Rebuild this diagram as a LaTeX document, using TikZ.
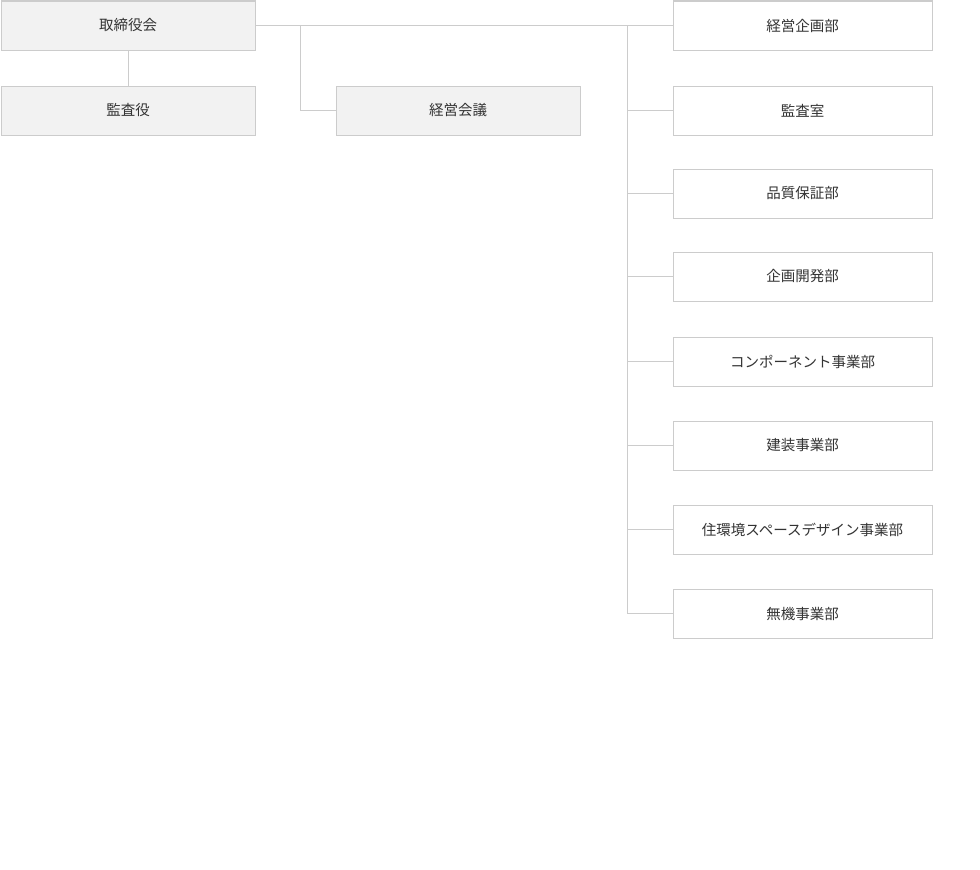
\documentclass[tikz,border=0pt]{standalone}
\usepackage{fontspec}
\setmainfont{Noto Sans CJK JP}
\definecolor{boxline}{HTML}{CCCCCC}
\definecolor{boxfill}{HTML}{F2F2F2}
\definecolor{txt}{HTML}{333333}
\begin{document}
\begin{tikzpicture}[x=1pt,y=-1pt,
  gbox/.style={draw=boxline,fill=boxfill,line width=1pt,minimum width=254pt,minimum height=49pt,inner sep=0pt,anchor=north west,text=txt,font=\fontsize{14.5}{16}\selectfont},
  wbox/.style={draw=boxline,fill=white,line width=1pt,minimum width=259pt,minimum height=49pt,inner sep=0pt,anchor=north west,text=txt,font=\fontsize{14.5}{16}\selectfont},
  conn/.style={draw=boxline,line width=1pt}]
\useasboundingbox (0,0) rectangle (980,870);
\node[gbox] (board) at (0.5,0.5) {取締役会};
\node[gbox] (audit) at (0.5,85.5) {監査役};
\node[gbox,minimum width=244pt] (mgmt) at (335.5,85.5) {経営会議};
\node[wbox] (r1) at (672.5,0.5) {経営企画部};
\node[wbox] (r2) at (672.5,85.5) {監査室};
\node[wbox] (r3) at (672.5,168.5) {品質保証部};
\node[wbox] (r4) at (672.5,251.5) {企画開発部};
\node[wbox] (r5) at (672.5,336.5) {コンポーネント事業部};
\node[wbox] (r6) at (672.5,420.5) {建装事業部};
\node[wbox] (r7) at (672.5,504.5) {住環境スペースデザイン事業部};
\node[wbox] (r8) at (672.5,588.5) {無機事業部};
\coordinate (b1) at (300.5,25);
\coordinate (b2) at (627.5,25);
\draw[conn] (board.east) -- (r1.west);
\draw[conn] (board.south) -- (audit.north);
\draw[conn] (b1) |- (mgmt.west);
\draw[conn] (b2) |- (r8.west);
\foreach \n in {r2,r3,r4,r5,r6,r7}{
  \draw[conn] (b2 |- \n.west) -- (\n.west);
}
\end{tikzpicture}
\end{document}
